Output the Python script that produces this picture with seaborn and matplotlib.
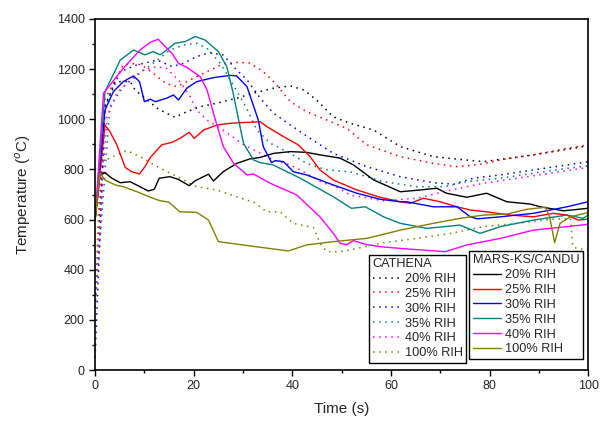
import numpy as np
import pandas as pd
import seaborn as sns
import matplotlib.pyplot as plt
from matplotlib.ticker import MultipleLocator

# MARS-KS/CANDU (solid)
m20_t = [0, 1, 2, 3.4, 5.1, 7.1, 9.1, 10.8, 12, 13, 15.2, 16.9, 19.1, 20.3, 23, 24, 26, 28.7, 31.4, 33.5, 36.2, 39.6,
         42.9, 45.6, 49.7, 52.4, 56.5, 61.9, 65.9, 69.3, 71.3, 75.4, 79.4, 83.5, 88.2, 90.3, 95, 100]
m20_T = [600, 778, 787, 765, 747, 751, 731, 714, 721, 765, 771, 760, 735, 755, 781, 754, 791, 824, 842, 848, 864, 871,
         868, 858, 845, 818, 758, 711, 718, 725, 705, 689, 705, 671, 662, 651, 635, 645]

m25_t = [0, 2, 3, 4.4, 6.1, 7.4, 9, 10.1, 11.2, 13.5, 15.6, 17.2, 19.1, 20.1, 22, 24.7, 27.4, 30, 33.5, 34.8, 38.2,
         41.2, 43.6, 45.6, 48.3, 53.1, 57.8, 61.9, 63.9, 66.6, 70, 73.4, 76.1, 79.4, 84.2, 88.9, 92.9, 95.7, 98, 100]
m25_T = [600, 977, 951, 898, 808, 791, 782, 811, 848, 898, 908, 924, 948, 924, 957, 977, 984, 987, 990, 971, 931,
         898, 851, 798, 758, 718, 689, 671, 665, 685, 671, 651, 638, 631, 618, 611, 625, 618, 598, 602]

m30_t = [0, 2, 3.7, 5.7, 7.8, 9, 10, 11.2, 12.2, 14.5, 15.9, 16.9, 18.6, 20.6, 24, 27.4, 28.7, 30.8, 33.1, 34.1, 35.8,
         36.5, 38.2, 40.2, 42.9, 48.3, 53.1, 57.8, 61.9, 63.2, 68.6, 73.4, 76.1, 77.5, 82.2, 88.9, 95.7, 100]
m30_T = [600, 1037, 1110, 1150, 1173, 1150, 1070, 1080, 1070, 1084, 1097, 1077, 1124, 1150, 1166, 1175, 1173, 1130,
         997, 891, 827, 835, 831, 791, 778, 738, 705, 681, 671, 671, 651, 651, 611, 603, 611, 625, 651, 671]

m35_t = [0, 2, 5.1, 7.8, 10.1, 11.8, 13.2, 14.5, 16.2, 18.3, 20.3, 22.3, 25, 26.7, 28, 29.4, 30.1, 32.1, 33.5, 36.1,
         41.6, 48.3, 52, 54.8, 58.5, 61.9, 67.3, 74, 78.1, 82.2, 88.9, 95.7, 99, 100]
m35_T = [600, 1110, 1236, 1276, 1257, 1270, 1257, 1276, 1303, 1310, 1330, 1316, 1270, 1210, 1104, 970, 904, 838, 827,
         818, 765, 691, 645, 651, 611, 585, 565, 578, 545, 572, 598, 618, 605, 618]

m40_t = [0, 1.7, 5.7, 9.1, 11.2, 12.8, 14.2, 15.6, 16.9, 18.6, 21.3, 22.7, 24, 25.4, 26, 28.1, 30.8, 32.1, 35.5, 40.9,
         45.6, 48.3, 49.7, 51, 52.4, 55.1, 57.8, 61.9, 71, 75.4, 82.2, 88.9, 95.7, 100]
m40_T = [600, 1104, 1203, 1276, 1307, 1319, 1290, 1263, 1223, 1207, 1170, 1117, 1024, 931, 891, 824, 778, 782, 745,
         698, 611, 545, 505, 500, 516, 500, 492, 485, 472, 499, 525, 558, 572, 581]

m100_t = [0, 1, 2, 4.1, 5.7, 8.5, 11.2, 13.2, 14.9, 17.2, 20.6, 23, 25, 31.4, 39.2, 42.9, 48.3, 55.1, 61.9, 68.6, 74,
          78.8, 83.5, 87.6, 91.3, 92.2, 93.2, 94.3, 96.4, 100]
m100_T = [600, 785, 758, 738, 731, 711, 689, 675, 670, 631, 629, 598, 512, 495, 475, 499, 512, 525, 558, 585, 605,
          618, 622, 641, 649, 611, 508, 585, 611, 628]

# CATHENA (dotted)
c20_t = [0, 2, 4, 7.1, 8.1, 10.1, 12.8, 14.5, 16.2, 18.6, 21.3, 24.7, 28.7, 32.1, 36.2, 39.6, 42.3, 44.9, 48.3, 51.7,
         56.5, 61.9, 68.6, 74, 78.8, 82.2, 88.9, 95.7, 100]
c20_T = [250, 1050, 1150, 1150, 1117, 1084, 1041, 1024, 1008, 1030, 1050, 1064, 1084, 1104, 1124, 1133, 1117, 1077,
         1010, 984, 957, 891, 851, 840, 831, 840, 858, 880, 894]

c25_t = [0, 2, 5.7, 8.5, 10.5, 12.6, 14.5, 16.6, 19.3, 22.7, 26, 28.7, 31.4, 34.1, 36.2, 39.6, 42.9, 47, 51, 55.1,
         61.9, 68.6, 73.4, 78.1, 82.2, 88.9, 95.7, 100]
c25_T = [250, 1080, 1217, 1223, 1203, 1170, 1141, 1130, 1157, 1190, 1221, 1227, 1224, 1190, 1150, 1070, 1030, 997,
         964, 898, 851, 824, 811, 820, 838, 858, 884, 898]

c30_t = [0, 2, 5.1, 8.5, 12.6, 15.6, 17.9, 20.6, 23.3, 26, 28.4, 30.8, 33.5, 36.2, 39.6, 43.6, 48.3, 55.1, 61.9, 68.6,
         72.7, 76.7, 82.2, 88.9, 95.7, 100]
c30_T = [50, 1050, 1190, 1217, 1236, 1210, 1223, 1250, 1266, 1256, 1203, 1157, 1084, 1024, 977, 924, 864, 811, 771,
         747, 741, 765, 778, 798, 818, 831]

c35_t = [0, 3, 5.7, 9.1, 12.6, 15.2, 17.9, 20.6, 22.7, 25.4, 27.4, 29.4, 30.8, 32.8, 35.5, 39.6, 42.9, 47, 51.7,
         58.5, 65.3, 70.7, 75.4, 82.2, 88.9, 95.7, 100]
c35_T = [250, 1050, 1130, 1183, 1236, 1276, 1296, 1303, 1283, 1223, 1157, 1090, 1040, 957, 905, 864, 824, 798, 791,
         751, 731, 731, 751, 765, 785, 804, 814]

c40_t = [0, 2.4, 4.4, 7.1, 9.8, 12.6, 14.5, 17.2, 19.3, 20.6, 22.7, 25.4, 27.4, 30, 36.2, 39.6, 41.6, 46.3, 48.3, 51.7,
         53.8, 58.5, 65.3, 72.2, 78.8, 85.6, 92.3, 100]
c40_T = [250, 1010, 1104, 1157, 1197, 1210, 1203, 1150, 1090, 1037, 997, 964, 937, 900, 838, 818, 798, 745, 738, 698,
         691, 675, 685, 718, 745, 765, 785, 808]

c100_t = [0, 1, 2.4, 4.4, 6.4, 9.1, 12.6, 16.6, 20.6, 24.7, 28.7, 31.4, 32.1, 34.8, 37.5, 40.2, 44.3, 45.6, 47, 49.7,
          51.7, 58.5, 65.3, 72.2, 78.8, 85.6, 92.3, 96.4, 96.9, 97.7, 100]
c100_T = [250, 824, 840, 858, 875, 851, 811, 771, 731, 718, 691, 674, 671, 631, 631, 585, 568, 505, 472, 472, 479,
          508, 525, 545, 572, 585, 601, 605, 492, 485, 480]

labels = ['20% RIH', '25% RIH', '30% RIH', '35% RIH', '40% RIH', '100% RIH']
colors = ['black', 'red', 'blue', '#008080', 'magenta', '#808000']
cathena = [(c20_t, c20_T), (c25_t, c25_T), (c30_t, c30_T), (c35_t, c35_T), (c40_t, c40_T), (c100_t, c100_T)]
mars = [(m20_t, m20_T), (m25_t, m25_T), (m30_t, m30_T), (m35_t, m35_T), (m40_t, m40_T), (m100_t, m100_T)]

sns.set_style('ticks')
plt.rcParams['font.family'] = ['Liberation Sans', 'DejaVu Sans']

fig = plt.figure(figsize=(6.02, 4.21), dpi=100)
ax = fig.add_axes([0.158, 0.121, 0.819, 0.834])

c_handles = []
for (t, T), col in zip(cathena, colors):
    sns.lineplot(x=t, y=T, color=col, linestyle=(0, (1, 3)), linewidth=1.1, ax=ax)
    c_handles.append(ax.lines[-1])
m_handles = []
for (t, T), col in zip(mars, colors):
    sns.lineplot(x=t, y=T, color=col, linewidth=1.0, ax=ax)
    m_handles.append(ax.lines[-1])

ax.set_xlim(0, 100)
ax.set_ylim(0, 1400)
ax.xaxis.set_major_locator(MultipleLocator(20))
ax.xaxis.set_minor_locator(MultipleLocator(10))
ax.yaxis.set_major_locator(MultipleLocator(200))
ax.yaxis.set_minor_locator(MultipleLocator(100))
ax.tick_params(which='major', length=4, width=1, labelsize=9, color='black')
ax.tick_params(which='minor', length=2.5, width=1, color='black')
for s in ax.spines.values():
    s.set_color('black')
    s.set_linewidth(1.2)
ax.set_xlabel('Time (s)', fontsize=11, labelpad=7)
ax.set_ylabel('Temperature ($^{o}$C)', fontsize=11, labelpad=17)

leg_kw = dict(loc='lower right', fontsize=9.2, title_fontsize=9.2, frameon=True, fancybox=False,
              edgecolor='black', framealpha=1, borderaxespad=0, labelspacing=0.22, handlelength=2.2,
              handletextpad=0.3, borderpad=0.3, alignment='left')
leg1 = ax.legend(c_handles, labels, title='CATHENA', bbox_to_anchor=(0.753, 0.02), **leg_kw)
leg1.get_frame().set_linewidth(1.0)
ax.add_artist(leg1)
leg2 = ax.legend(m_handles, labels, title='MARS-KS/CANDU', bbox_to_anchor=(0.99, 0.031), **leg_kw)
leg2.get_frame().set_linewidth(1.0)

fig.savefig('out.png', dpi=100)
